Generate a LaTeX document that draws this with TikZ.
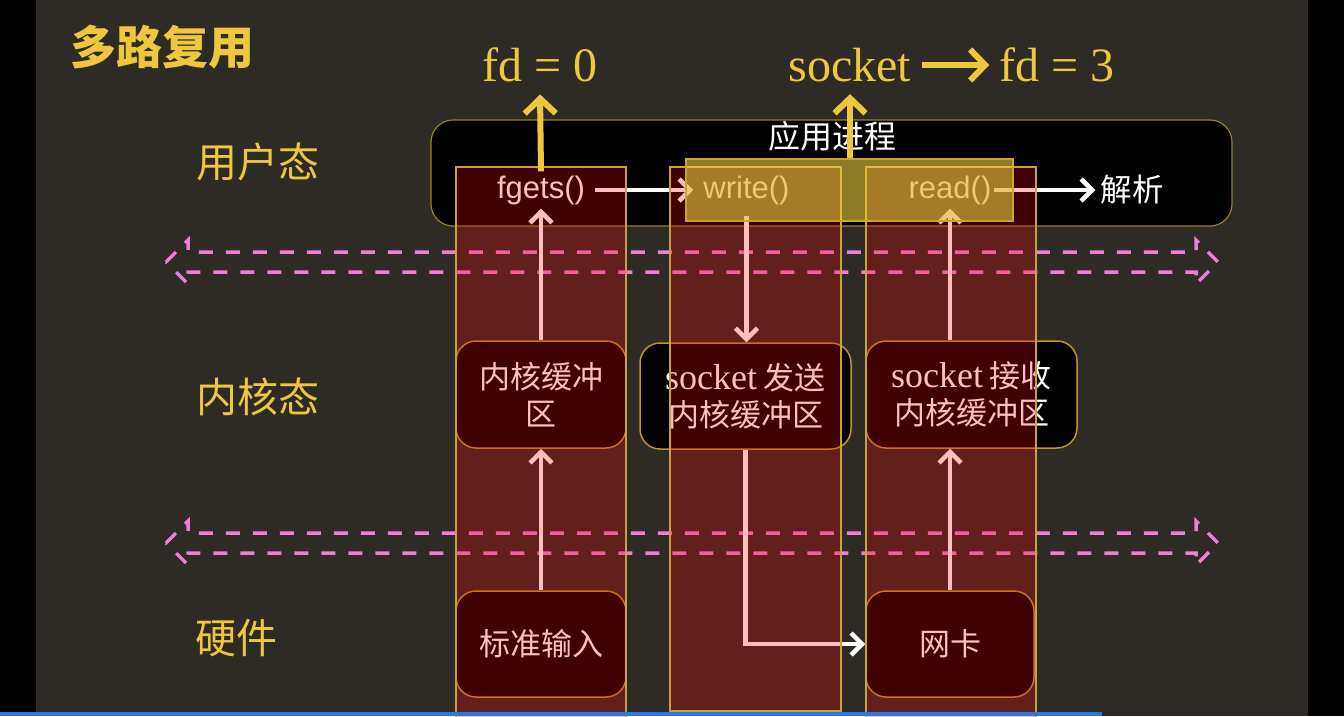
\documentclass[tikz,border=0pt]{standalone}
\usepackage{fontspec}
\setmainfont{Liberation Serif}
\newfontfamily\cjk{Noto Sans CJK SC}
\newfontfamily\lsans{Liberation Sans}
\newfontfamily\lser{Liberation Serif}
\usetikzlibrary{arrows.meta}
\definecolor{bgc}{RGB}{46,42,37}
\definecolor{ylw}{RGB}{238,200,60}
\definecolor{boxb}{RGB}{190,150,45}
\definecolor{colb}{RGB}{200,165,50}
\definecolor{appb}{RGB}{150,130,40}
\definecolor{pinkd}{RGB}{240,125,215}
\definecolor{ovc}{RGB}{235,205,65}
\definecolor{bluebar}{RGB}{40,120,230}
\begin{document}
\begin{tikzpicture}[x=1pt,y=-1pt,
  lbl/.style={text=ylw, font=\cjk\fontsize{41}{43}\selectfont, inner sep=0pt},
  box/.style={draw=boxb, line width=1.5pt, fill=black, rounded corners=20pt, inner sep=0pt, align=center, text=white, font=\cjk\fontsize{31}{37}\selectfont},
  col/.style={fill=red, fill opacity=0.25, draw=colb, draw opacity=1, line width=1.2pt, inner sep=0pt},
  warr/.style={draw=white, line width=4.5pt, -{Straight Barb[length=11pt,width=22pt,line width=4.5pt]}},
  yarr/.style={draw=ylw, line width=6pt, -{Straight Barb[length=15pt,width=31pt,line width=6pt]}},
  dsh/.style={draw=pinkd, line width=3.5pt, dash pattern=on 14pt off 13pt},
  ftxt/.style={text=white, font=\lsans\fontsize{31}{33}\selectfont, inner xsep=10pt, inner ysep=4pt},
  ytxt/.style={text=ylw, font=\lser\fontsize{48}{50}\selectfont, inner xsep=10pt, inner ysep=12pt},
]
\useasboundingbox (0,0) rectangle (1344,716);
% background
\fill[black] (0,0) rectangle (1344,716);
\fill[bgc] (36,0) rectangle (1308,716);

% title and layer labels
\node[text=ylw, font=\cjk\bfseries\fontsize{46}{48}\selectfont, inner sep=0pt] (title) at (162,47) {多路复用};
\node[lbl] (lu) at (258,162) {用户态};
\node[lbl] (lk) at (258,397) {内核态};
\node[lbl] (lh) at (236,638) {硬件};

% fd labels
\node[ytxt] (fd0) at (540,65) {fd = 0};
\node[ytxt] (sock) at (850,65) {socket};
\node[ytxt] (fd3) at (1057,65) {fd = 3};

% application box
\node[draw=appb, line width=1.2pt, fill=black, rounded corners=22pt, minimum width=801pt, minimum height=106pt, inner sep=0pt] (app) at (831.5,173) {};
\node[text=white, font=\cjk\fontsize{32}{34}\selectfont, inner sep=0pt] (appt) at (832,136) {应用进程};

% kernel and hardware boxes
\node[box, minimum width=170pt, minimum height=107pt] (k1) at (541,394.5) {内核缓冲\\区};
\node[box, minimum width=211pt, minimum height=106pt] (k2) at (745.5,396) {{\lser\fontsize{36}{37}\selectfont socket} 发送\\内核缓冲区};
\node[box, minimum width=211pt, minimum height=107pt] (k3) at (971.5,394.5) {{\lser\fontsize{36}{37}\selectfont socket} 接收\\内核缓冲区};
\node[box, minimum width=170pt, minimum height=106pt] (h1) at (541,644) {标准输入};
\node[box, minimum width=168pt, minimum height=106pt] (h3) at (950,644) {网卡};

% dashed double arrows (boundaries)
\draw[dsh] (166,262) -- (188,240) -- (188,252) -- (1196,252) -- (1196,240) -- (1218,262) -- (1196,284) -- (1196,272) -- (188,272) -- (188,284) -- cycle;
\draw[dsh] (166,543) -- (188,521) -- (188,533) -- (1196,533) -- (1196,521) -- (1218,543) -- (1196,565) -- (1196,553) -- (188,553) -- (188,565) -- cycle;

% function texts
\node[ftxt] (fgets) at (541,190) {fgets()};
\node[ftxt] (write) at (746.5,190) {write()};
\node[ftxt, inner xsep=2pt] (read) at (950,190) {read()};
\node[text=white, font=\cjk\fontsize{31.5}{33}\selectfont, inner xsep=5pt] (jx) at (1132,190) {解析};

% white arrows
\draw[warr] (fgets.east) -- (write.west);
\draw[warr] (read.east) -- (jx.west);
\draw[warr] (k1.north) -- (fgets.south);
\draw[warr, shorten <=7pt] (write.south) -- (write.south |- k2.north);
\draw[warr] (read.south |- k3.north) -- (read.south);
\draw[warr] (h1.north) -- (k1.south);
\draw[warr] (h3.north) -- (h3.north |- k3.south);
\draw[warr] (k2.south) -- (k2.south |- h3.west) -- (h3.west);

% red translucent columns
\node[col, minimum width=170pt, minimum height=553pt] (c1) at (541,443.5) {};
\node[col, minimum width=171pt, minimum height=544pt] (c2) at (755.5,439) {};
\node[col, minimum width=170pt, minimum height=553pt] (c3) at (951,443.5) {};

% orange overlay
\node[fill=ovc, fill opacity=0.6, draw=colb, draw opacity=1, line width=1.2pt, minimum width=327pt, minimum height=62pt, inner sep=0pt] (ov) at (849.5,190) {};

% yellow arrows
\draw[yarr] (fgets.north) -- (fd0.south);
\draw[yarr] (sock.south |- ov.north) -- (sock.south);
\draw[yarr] (sock.east) -- (fd3.west);

% bottom bar
\fill[bluebar] (0,712) rectangle (1102,716);
\end{tikzpicture}
\end{document}
